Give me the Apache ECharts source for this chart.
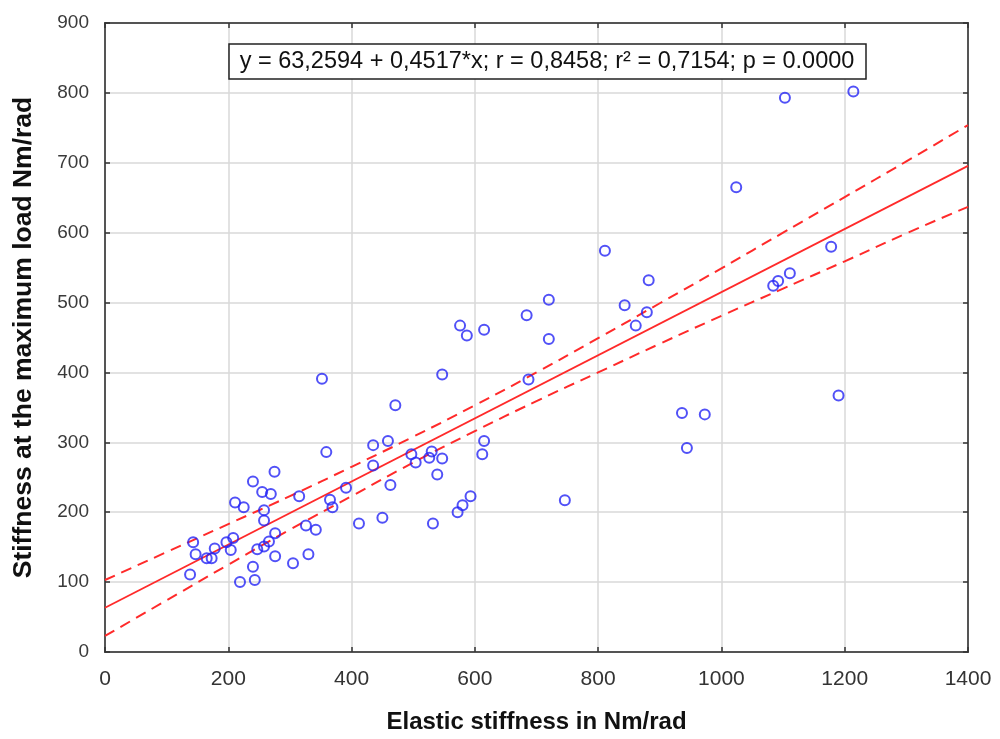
<!DOCTYPE html>
<html><head><meta charset="utf-8">
<script src="https://cdn.jsdelivr.net/npm/echarts@6/dist/echarts.min.js"></script>
<style>html,body{margin:0;padding:0;background:#fff}#c{width:1000px;height:739px}</style>
</head><body><div id="c"></div>
<script>
// Observed points (x: elastic stiffness, y: stiffness at max load), Nm/rad
const elasticStiffness = [138,143,147,165,173,178,197,208,204,211,225,219,240,243,240,255,269,258,258,247,258,266,276,276,275,305,315,326,330,342,359,352,365,369,391,412,435,435,450,459,463,471,497,504,526,530,532,539,547,547,572,580,593,612,615,576,587,615,684,687,720,720,746,811,843,861,882,879,936,973,944,1024,1084,1092,1111,1103,1178,1190,1214];
const maxLoadStiffness = [111,157,140,134,134,148,157,163,146,214,207,100,122,103,244,229,226,203,188,147,151,158,170,137,258,127,223,181,140,175,286,391,218,207,235,184,296,267,192,302,239,353,283,271,278,287,184,254,277,397,200,210,223,283,302,467,453,461,482,390,504,448,217,574,496,467,532,486,342,340,292,665,524,531,542,793,580,367,802];
// Regression from the annotation
const fitIntercept = 63.2594;
const fitSlope = 0.4517;
const fitRange = [0, 1400];
// 95% confidence band
const bandX = [0,100,200,300,400,500,600,700,800,900,1000,1100,1200,1300,1400];
const bandUpper = [103,143,183,223,265,308,353,400,449,499,549,600,651,702,754];
const bandLower = [23,74,125,175,223,271,316,359,400,441,481,520,559,599,637];
const xTickValues = [0,200,400,600,800,1000,1200,1400];
const yTickValues = [0,100,200,300,400,500,600,700,800,900];
const annotation = 'y = 63,2594 + 0,4517*x; r = 0,8458; r\u00b2 = 0,7154; p = 0.0000';

const chart = echarts.init(document.getElementById('c'), null, {renderer:'canvas'});
const pts = elasticStiffness.map((x,i)=>[x, maxLoadStiffness[i]]);
const fit = fitRange.map(x=>[x, fitIntercept + fitSlope*x]);
const up = bandX.map((x,i)=>[x, bandUpper[i]]);
const lo = bandX.map((x,i)=>[x, bandLower[i]]);
const axisCol = '#333';
const sans = '"Liberation Sans", Arial, sans-serif';
chart.setOption({
  animation:false,
  backgroundColor:'#fff',
  grid:{left:105,right:32,top:23,bottom:86,show:true,borderColor:axisCol,borderWidth:1.5,backgroundColor:'transparent'},
  xAxis:[{
    type:'value', min:xTickValues[0], max:xTickValues[xTickValues.length-1], interval:200,
    name:'Elastic stiffness in Nm/rad', nameLocation:'middle', nameGap:58,
    nameTextStyle:{fontFamily:sans, fontWeight:'bold', fontSize:24, color:'#111'},
    axisLine:{show:true,onZero:false,lineStyle:{color:axisCol,width:1.5}},
    axisTick:{show:true,inside:true,length:5,lineStyle:{color:axisCol,width:1.5}},
    axisLabel:{fontFamily:sans,fontSize:21,color:'#333',margin:17,formatter:v=>String(v)},
    splitLine:{show:true,lineStyle:{color:'#d9d9d9',width:1.5}}
  },{
    type:'value', position:'top', min:0, max:1400, interval:200,
    axisLine:{show:true,onZero:false,lineStyle:{color:axisCol,width:1.5}},
    axisTick:{show:true,inside:true,length:5,lineStyle:{color:axisCol,width:1.5}},
    axisLabel:{show:false}, splitLine:{show:false}
  }],
  yAxis:[{
    type:'value', min:yTickValues[0], max:yTickValues[yTickValues.length-1], interval:100,
    name:'Stiffness at the maximum load Nm/rad', nameLocation:'middle', nameGap:68,
    nameTextStyle:{fontFamily:sans, fontWeight:'bold', fontSize:26.5, color:'#111'},
    axisLine:{show:true,onZero:false,lineStyle:{color:axisCol,width:1.5}},
    axisTick:{show:true,inside:true,length:5,lineStyle:{color:axisCol,width:1.5}},
    axisLabel:{fontFamily:sans,fontSize:19,color:'#3a3a3a',margin:16},
    splitLine:{show:true,lineStyle:{color:'#d9d9d9',width:1.5}}
  },{
    type:'value', position:'right', min:0, max:900, interval:100,
    axisLine:{show:true,onZero:false,lineStyle:{color:axisCol,width:1.5}},
    axisTick:{show:true,inside:true,length:5,lineStyle:{color:axisCol,width:1.5}},
    axisLabel:{show:false}, splitLine:{show:false}
  }],
  graphic:[
    {type:'rect', shape:{x:229,y:44,width:637,height:35}, style:{fill:'#fff',stroke:'#222',lineWidth:1.5}, z:100},
    {type:'text', x:547, y:62, style:{text:annotation, font:'23.5px "Liberation Sans", Arial, sans-serif', fill:'#111', align:'center', verticalAlign:'middle'}, z:101}
  ],
  series:[
    {type:'line', data:up, smooth:true, symbol:'none', lineStyle:{color:'#ff2a2a',width:2,type:[11,7]}, z:3},
    {type:'line', data:lo, smooth:true, symbol:'none', lineStyle:{color:'#ff2a2a',width:2,type:[11,7]}, z:3},
    {type:'line', data:fit, symbol:'none', lineStyle:{color:'#ff2a2a',width:1.8}, z:3},
    {type:'scatter', data:pts, symbol:'circle', symbolSize:10,
     itemStyle:{color:'transparent',borderColor:'#2525f5',borderWidth:2}, z:4}
  ]
});
</script></body></html>
